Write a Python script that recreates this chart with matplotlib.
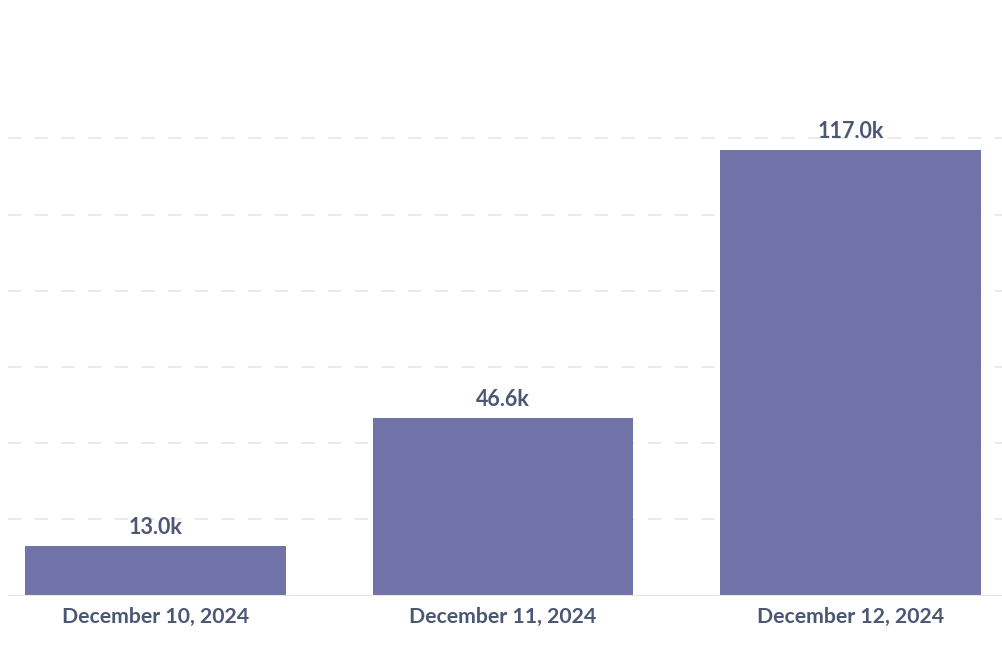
import matplotlib.pyplot as plt

plt.rcParams["font.family"] = ["Lato", "DejaVu Sans"]

dates = ["December 10, 2024", "December 11, 2024", "December 12, 2024"]
values = [13000, 46600, 117000]
value_labels = ["13.0k", "46.6k", "117.0k"]

bar_color = "#7172A8"
text_color = "#4C5773"
grid_color = "#E6E6E6"

fig = plt.figure(figsize=(10.02, 6.5), dpi=100)
ax = fig.add_axes([8 / 1002, 54.5 / 650, 994 / 1002, 533.2 / 650])

x = range(len(dates))
bars = ax.bar(x, values, width=0.751, color=bar_color, zorder=3)

ax.set_xlim(-0.4245, 2.436)
ax.set_ylim(0, 140000)

# dashed horizontal gridlines, solid baseline
for yv in range(20000, 140000, 20000):
    ax.axhline(yv, color=grid_color, linewidth=1.2, dashes=(8, 8), zorder=1)
ax.axhline(0, color=grid_color, linewidth=1.5, zorder=4)

for b, lab in zip(bars, value_labels):
    ax.annotate(lab, (b.get_x() + b.get_width() / 2, b.get_height()),
                xytext=(0, 6), textcoords="offset points",
                ha="center", va="bottom", fontsize=15.5, fontweight="bold",
                color=text_color)

ax.set_xticks(list(x))
ax.set_xticklabels(dates, fontsize=15.3, fontweight="bold", color=text_color)
ax.tick_params(axis="x", length=0, pad=8.5)
ax.set_yticks([])
for s in ax.spines.values():
    s.set_visible(False)

fig.savefig("out.png", dpi=100)
